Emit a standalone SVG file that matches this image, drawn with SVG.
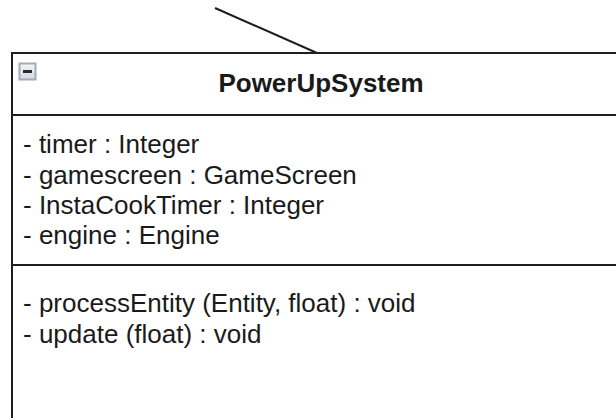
<svg xmlns="http://www.w3.org/2000/svg" width="616" height="418" viewBox="0 0 616 418">
<defs>
<linearGradient id="ig" x1="0" y1="0" x2="0" y2="1">
<stop offset="0" stop-color="#f4f5f8"/>
<stop offset="1" stop-color="#d4d8e0"/>
</linearGradient>
</defs>
<style>
.edge{stroke:#1e1e1e;stroke-width:2;fill:none}
.box{fill:#ffffff;stroke:#1e1e1e;stroke-width:2}
.sep{stroke:#1e1e1e;stroke-width:2}
.t{font-family:"Liberation Sans",Arial,sans-serif;font-size:26px;fill:#1a1a1a}
.title{font-weight:bold;text-anchor:middle}
</style>
<rect width="616" height="418" fill="#ffffff"/>
<g id="connectors">
<line class="edge" x1="215" y1="8" x2="317" y2="53"/>
</g>
<g id="PowerUpSystem">
<rect class="box" x="12" y="53" width="640" height="400"/>
<line class="sep" x1="12" y1="115" x2="640" y2="115"/>
<line class="sep" x1="12" y1="265" x2="640" y2="265"/>
<g id="collapse">
<rect x="19.5" y="63.5" width="16" height="16" fill="url(#ig)" stroke="#a3aab8" stroke-width="2"/>
<rect x="23" y="70" width="9" height="3" fill="#2a2a2a"/>
</g>
<text class="t title" x="321" y="92">PowerUpSystem</text>
<text class="t" x="23" y="153">- timer : Integer</text>
<text class="t" x="23" y="184">- gamescreen : GameScreen</text>
<text class="t" x="23" y="214">- InstaCookTimer : Integer</text>
<text class="t" x="23" y="244">- engine : Engine</text>
<text class="t" x="23" y="312">- processEntity (Entity, float) : void</text>
<text class="t" x="23" y="343">- update (float) : void</text>
</g>
</svg>
